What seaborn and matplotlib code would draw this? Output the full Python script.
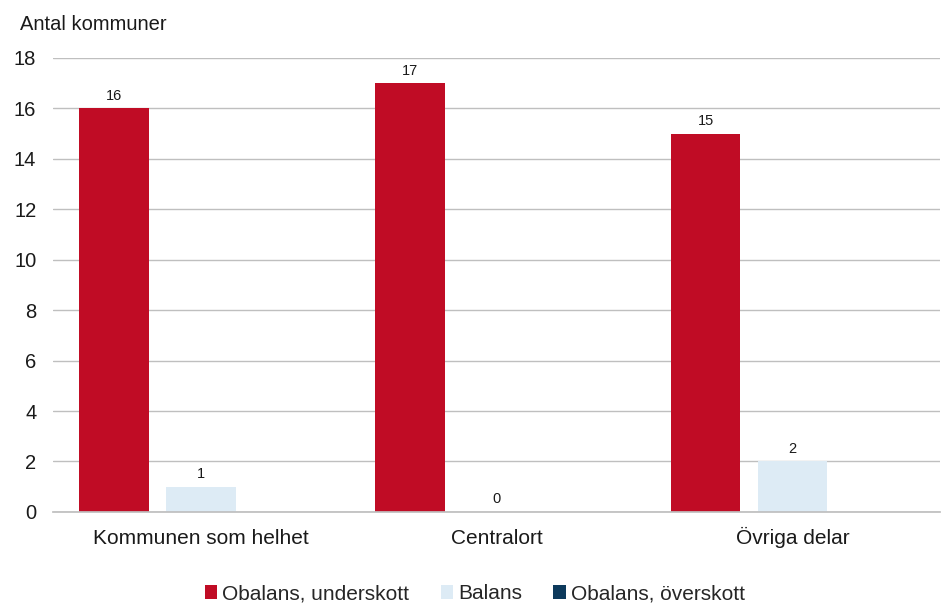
import matplotlib

matplotlib.use("Agg")
import matplotlib.pyplot as plt
import numpy as np
import pandas as pd
import seaborn as sns
from matplotlib.patches import Patch

# --- Data ------------------------------------------------------------------
CATEGORIES = ["Kommunen som helhet", "Centralort", "Övriga delar"]
SERIES = ["Obalans, underskott", "Balans", "Obalans, överskott"]
UNDERSKOTT = [16, 17, 15]
BALANS = [1, 0, 2]
OVERSKOTT = [np.nan, np.nan, np.nan]   # no values reported
COLORS = ["#C00C25", "#DDEBF5", "#0D3A5C"]

sns.set_theme(style="white")
plt.rcParams["font.family"] = ["Liberation Sans", "DejaVu Sans"]

df = pd.DataFrame({
    "kategori": CATEGORIES * 3,
    "serie": [SERIES[0]] * 3 + [SERIES[1]] * 3 + [SERIES[2]] * 3,
    "antal": UNDERSKOTT + BALANS + OVERSKOTT,
})

fig = plt.figure(figsize=(9.46, 6.16), dpi=100)
ax = fig.add_axes([0.056, 0.169, 0.938, 0.737])

sns.barplot(data=df, x="kategori", y="antal", hue="serie",
            order=CATEGORIES, hue_order=SERIES, palette=COLORS,
            width=0.88, gap=0.2, saturation=1, dodge=True,
            linewidth=0, legend=False, ax=ax)

# value labels
for cont in ax.containers:
    labels = ["" if np.isnan(v) else f"{v:.0f}" for v in cont.datavalues]
    ax.bar_label(cont, labels=labels, padding=4, fontsize=10.5, color="#1a1a1a")

ax.set_xlim(-0.5, 2.5)
ax.set_ylim(0, 18)
ax.set_yticks(range(0, 19, 2))
ax.yaxis.grid(True, color="#BFBFBF", linewidth=1)
ax.set_axisbelow(True)
for s in ["top", "right", "left"]:
    ax.spines[s].set_visible(False)
ax.spines["bottom"].set_color("#BFBFBF")
ax.tick_params(axis="y", length=0, pad=12, labelsize=14.5, labelcolor="#1a1a1a")
ax.tick_params(axis="x", length=0, pad=23, labelsize=15, labelcolor="#1a1a1a")
for lab in ax.get_xticklabels():
    lab.set_verticalalignment("baseline")
ax.set_xlabel("")
ax.set_ylabel("")

fig.text(0.021, 0.96, "Antal kommuner", fontsize=14.5, color="#1a1a1a",
         va="center", ha="left")

handles = [Patch(facecolor=c, edgecolor="none") for c in COLORS]
fig.legend(handles, SERIES, loc="center", bbox_to_anchor=(0.502, 0.036),
           ncol=3, frameon=False, fontsize=15, handlelength=0.6,
           handleheight=0.6, handletextpad=0.25, columnspacing=1.5)

fig.savefig("out.png", dpi=100)
